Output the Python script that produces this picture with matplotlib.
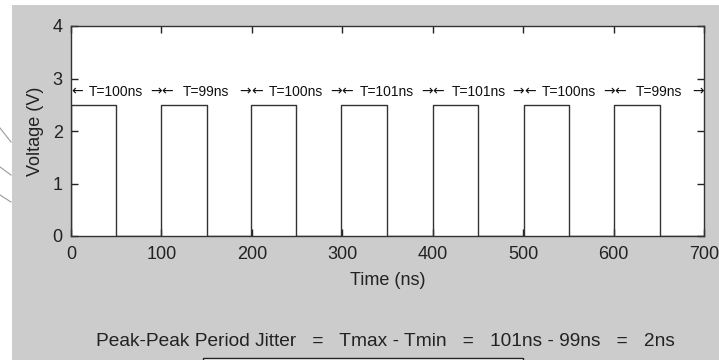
import matplotlib
matplotlib.use("Agg")
import matplotlib.pyplot as plt
from matplotlib.patches import Rectangle
from matplotlib.lines import Line2D
import numpy as np

# clock periods between successive rising edges (ns)
periods = [100, 99, 100, 101, 101, 100, 99]
pulse_width = 50      # ns
high_level = 2.5      # V
x_ticks = [0, 100, 200, 300, 400, 500, 600, 700]
y_ticks = [0, 1, 2, 3, 4]
label_level = 2.75
jitter_text = "Peak-Peak Period Jitter   =   Tmax - Tmin   =   101ns - 99ns   =   2ns"

plt.rcParams['font.family'] = ['Liberation Sans', 'DejaVu Sans']

W, H = 719, 360
fig = plt.figure(figsize=(W / 100, H / 100), dpi=100, facecolor='white')

# grey window background
fig.add_artist(Rectangle((12 / W, 0), 1, 1 - 5 / H, transform=fig.transFigure,
                         facecolor='#cccccc', edgecolor='none', zorder=0))
# scratch lines on the white margin
for (x0, y0, x1, y1) in [(0, 128, 11, 142), (0, 167, 11, 175), (0, 195, 11, 202)]:
    fig.add_artist(Line2D([x0 / W, x1 / W], [1 - y0 / H, 1 - y1 / H],
                          transform=fig.transFigure, color='#9a9a9a', lw=0.8))

ax = fig.add_axes([71 / W, 1 - 236 / H, 633 / W, 210 / H])
ax.set_facecolor('white')

# build the square wave from the periods
edges = np.concatenate([[0], np.cumsum(periods)])
t, v = [], []
for start in edges[:-1]:
    t += [start, start, start + pulse_width, start + pulse_width]
    v += [0, high_level, high_level, 0]
t.append(edges[-1])
v.append(0)
ax.plot(t, v, color='#333333', lw=1.0)

# period annotations
for i, p in enumerate(periods):
    a, b = edges[i], edges[i + 1]
    ax.text(a, label_level, "\u2190", ha='left', va='center', fontsize=10,
            family='DejaVu Sans', color='#111111')
    ax.text(b, label_level, "\u2192", ha='right', va='center', fontsize=10,
            family='DejaVu Sans', color='#111111')
    ax.text((a + b) / 2, label_level, f"T={p}ns", ha='center', va='center',
            fontsize=10, color='#111111')

ax.set_xlim(0, 700)
ax.set_ylim(0, 4)
ax.set_xticks(x_ticks)
ax.set_yticks(y_ticks)
ax.tick_params(direction='in', length=5, width=1, top=True, right=True,
               labelsize=13, colors='#222222')
ax.tick_params(axis='x', pad=7)
ax.tick_params(axis='y', pad=6)
for s in ax.spines.values():
    s.set_color('#333333')
    s.set_linewidth(1.0)
ax.set_xlabel("Time (ns)", fontsize=13, labelpad=7, color='#222222')
ax.set_ylabel("Voltage (V)", fontsize=13, labelpad=6, color='#222222')

fig.text(385 / W, 1 - 342 / H, jitter_text, ha='center', va='center',
         fontsize=13.75, color='#222222')
fig.add_artist(Rectangle((203 / W, -0.05), (523 - 203) / W, 0.05 + 1 - 358 / H,
                         transform=fig.transFigure, facecolor='white',
                         edgecolor='#222222', lw=1.0))

fig.savefig("out.png", dpi=100, facecolor=fig.get_facecolor())
